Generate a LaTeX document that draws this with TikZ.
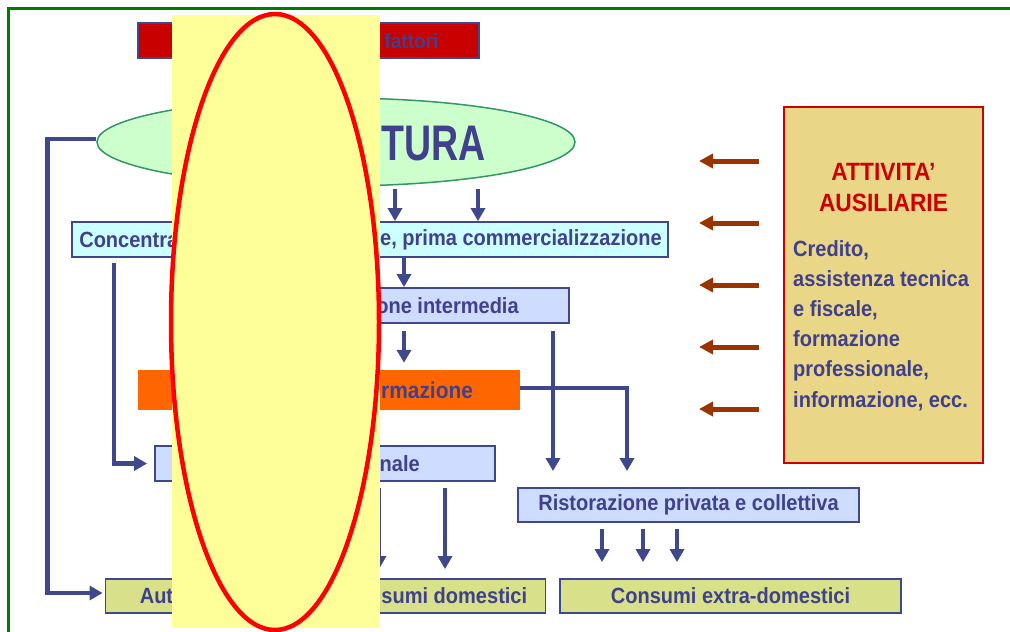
\documentclass[tikz,border=0pt]{standalone}
\usepackage{fontspec}
\setmainfont{Liberation Sans}[FakeStretch=0.91]
\newfontfamily\bigsans{Liberation Sans}[FakeStretch=0.75]
\usepackage{tikz}
\usetikzlibrary{arrows.meta,calc,shapes.geometric}
\definecolor{inkblue}{RGB}{64,64,140}
\definecolor{lineblue}{RGB}{64,72,140}
\definecolor{framegreen}{RGB}{0,125,0}
\definecolor{ovalgreen}{RGB}{51,150,100}
\definecolor{ovalfill}{RGB}{204,255,204}
\definecolor{cyanfill}{RGB}{204,255,255}
\definecolor{bluefill}{RGB}{206,220,255}
\definecolor{limefill}{RGB}{217,224,138}
\definecolor{barred}{RGB}{200,0,0}
\definecolor{orangefill}{RGB}{255,102,0}
\definecolor{khaki}{RGB}{233,214,134}
\definecolor{ausred}{RGB}{204,0,0}
\definecolor{brownarr}{RGB}{153,51,0}
\definecolor{coverfill}{RGB}{255,255,153}
\tikzset{
  >={Triangle[length=13pt,width=14pt]},
  txt/.style={font=\bfseries\fontsize{22}{26}\selectfont,text=inkblue,inner sep=0pt},
  flowbox/.style={draw=lineblue,line width=1.8pt,inner sep=0pt,minimum height=35pt,
    font=\bfseries\fontsize{22}{26}\selectfont,text=inkblue},
  cbox/.style={flowbox,fill=cyanfill},
  bbox/.style={flowbox,fill=bluefill},
  lbox/.style={flowbox,fill=limefill},
  arr/.style={->,draw=lineblue,line width=4.8pt},
  barr/.style={-{Triangle[length=14pt,width=14pt]},draw=brownarr,line width=5pt},
}

\begin{document}
\begin{tikzpicture}[x=1pt,y=-1pt,
    ausbox/.style={draw=ausred,line width=2pt,fill=khaki,inner sep=0pt},
    austtl/.style={font=\bfseries\fontsize{25}{31}\selectfont,text=ausred,align=center,inner sep=0pt},
    ausbody/.style={txt,align=left,font=\bfseries\fontsize{22}{30.2}\selectfont}]
  \useasboundingbox (0,0) rectangle (1010,632);
  \draw[framegreen,line width=3pt] (8,632) -- (8,8) -- (1010,8);

  % top bar and oval
  \node[draw=lineblue,line width=1.5pt,fill=barred,minimum width=341pt,minimum height=35pt,
    inner sep=0pt] (fact) at (308.5,40.5) {};
  \node[txt,font=\bfseries\fontsize{21}{25}\selectfont,anchor=east] at ([xshift=-41]fact.east) {fattori};
  \node[ellipse,draw=ovalgreen,line width=1.5pt,fill=ovalfill,minimum width=478pt,
    minimum height=88pt,inner sep=0pt] (agri) at (336,142) {};
  \node[txt,font=\bigsans\bfseries\fontsize{50}{56}\selectfont,anchor=east]
    at ([xshift=150,yshift=-1.5]agri.center) {TURA};

  % flow boxes
  \node[cbox,minimum width=596pt] (conc) at (370,239.5) {};
  \node[txt,anchor=west] at ([xshift=8]conc.west) {Concentra};
  \node[txt,anchor=east] at ([xshift=-7]conc.east) {e, prima commercializzazione};
  \node[bbox,minimum width=330pt] (interm) at (404,305.5) {};
  \node[txt,anchor=east] at ([xshift=-51]interm.east) {one intermedia};
  \node[fill=orangefill,minimum width=382pt,minimum height=40pt,inner sep=0pt] (trasf) at (329,390) {};
  \node[txt,font=\bfseries\fontsize{23}{27}\selectfont,anchor=east] at ([xshift=-47]trasf.east) {rmazione};
  \node[bbox,minimum width=340pt] (nale) at (325,463.5) {};
  \node[txt,anchor=east] at ([xshift=-76]nale.east) {nale};
  \node[bbox,minimum width=341pt,minimum height=34pt] (risto) at (688.5,505) {Ristorazione privata e collettiva};
  \node[lbox,minimum width=440pt,minimum height=34pt] (dom) at (325.5,596) {};
  \node[txt,anchor=west] at ([xshift=35]dom.west) {Aut};
  \node[txt,anchor=east] at ([xshift=-19]dom.east) {sumi domestici};
  \node[lbox,minimum width=341pt,minimum height=34pt] (extra) at (730.5,596) {Consumi extra-domestici};

  % auxiliary activities
  \node[ausbox,minimum width=199pt,minimum height=356pt] (aus) at (883.5,285) {};
  \node[austtl] (austtl) at (883.5,188) {ATTIVITA’\\AUSILIARIE};
  \node[ausbody,anchor=north west] (ausbdy) at (793,240) {Credito,\\assistenza tecnica\\e fiscale,\\formazione\\professionale,\\informazione, ecc.};

  % connectors
  \draw[arr] ([xshift=59,yshift=-2]agri.south) -- ([xshift=25]conc.north);
  \draw[arr] ([xshift=142,yshift=-2]agri.south) -- ([xshift=108]conc.north);
  \draw[arr] (interm.north |- conc.south) -- (interm.north);
  \draw[arr,shorten <=7pt,shorten >=7pt] (interm.south) -- (interm.south |- trasf.north);
  \draw[arr,shorten <=7pt,shorten >=16pt] ([xshift=149]interm.south)
    -- ($(interm.south |- risto.north)+(149,0)$);
  \draw[arr,shorten >=16pt] ([yshift=2]trasf.east) -| ([xshift=-61.5]risto.north);
  \draw[arr,shorten <=5pt,shorten >=7pt] ([xshift=-256]conc.south) |- (nale.west);
  \draw[arr,shorten >=2pt] ([yshift=3]agri.west) -- ++(-49,0) |- ([yshift=3]dom.west);
  \foreach \dx in {54,120}
    \draw[arr,shorten <=6pt,shorten >=9pt] ([xshift=\dx]nale.south)
      -- ($(nale.south |- dom.north)+(\dx,0)$);
  \foreach \dx in {-86.5,-45.5,-11.5}
    \draw[arr,shorten <=6pt,shorten >=16pt] ([xshift=\dx]risto.south)
      -- ($(risto.south |- extra.north)+(\dx,0)$);
  \foreach \k in {2,1,0,-1,-2}
    \draw[barr] ([xshift=-24,yshift=\k*62]aus.west) -- ++(-60,0);

  % cover
  \fill[coverfill] (172,15) rectangle (380,628);
  \draw[red,line width=4.5pt] (275,322) ellipse [x radius=104,y radius=308];
\end{tikzpicture}
\end{document}
